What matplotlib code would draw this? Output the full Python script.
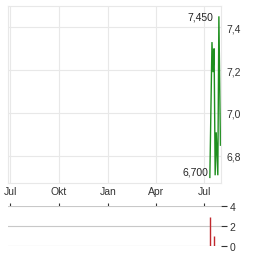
import matplotlib
matplotlib.use("Agg")
import matplotlib.pyplot as plt
import matplotlib.dates as mdates
import numpy as np
import datetime as dt

# Data
price_dates = ["2025-07-12", "2025-07-16", "2025-07-18", "2025-07-20", "2025-07-22",
               "2025-07-24", "2025-07-27", "2025-07-29", "2025-08-01"]
price_values = [6.70, 7.33, 7.19, 7.30, 6.71, 6.91, 6.71, 7.45, 6.85]
volume_dates = ["2025-07-12", "2025-07-20"]
volume_values = [2.9, 1.0]
month_ticks = ["2024-07-01", "2024-10-01", "2025-01-01", "2025-04-01", "2025-07-01"]
month_labels = ["Jul", "Okt", "Jan", "Apr", "Jul"]
price_yticks = [6.8, 7.0, 7.2, 7.4]
volume_yticks = [0, 2, 4]
max_label = "7,450"
min_label = "6,700"

def d(s):
    return mdates.date2num(dt.datetime.strptime(s, "%Y-%m-%d"))

pd_ = [d(s) for s in price_dates]
vd_ = [d(s) for s in volume_dates]
mt_ = [d(s) for s in month_ticks]
xmin, xmax = d("2024-06-27"), d("2025-08-02")

plt.rcParams['font.family'] = ['Liberation Sans', 'DejaVu Sans']
fs = 7.5
W, H = 264, 255
fig = plt.figure(figsize=(W / 100, H / 100), dpi=100)

# Main price axes
ax = fig.add_axes([8 / W, 1 - 184 / H, (221 - 8) / W, (184 - 7) / H])
ax.plot(pd_, price_values, color="#1f8f1f", lw=1.0, solid_joinstyle="miter")
ax.set_xlim(xmin, xmax)
ax.set_ylim(6.674, 7.498)
ax.set_xticks(mt_)
ax.set_xticklabels([])
ax.tick_params(axis="x", length=0)
ax.yaxis.tick_right()
ax.set_yticks(price_yticks)
ax.set_yticklabels([f"{v:.1f}".replace(".", ",") for v in price_yticks], fontsize=fs, color="#333333")
ax.tick_params(axis="y", length=0, pad=4)
ax.grid(True, color="#e8e8e8", lw=0.8)
ax.set_axisbelow(True)
for s in ax.spines.values():
    s.set_color("#e8e8e8")
    s.set_linewidth(0.8)

imax = int(np.argmax(price_values))
imin = int(np.argmin(price_values))
ax.annotate(max_label, (pd_[imax], price_values[imax]), xytext=(-4, 0), textcoords="offset points",
            ha="right", va="center", fontsize=fs, color="#222222")
ax.annotate(min_label, (pd_[imin], price_values[imin]), xytext=(-1, 4), textcoords="offset points",
            ha="right", va="center", fontsize=fs, color="#222222")

# Volume axes
av = fig.add_axes([8 / W, 1 - 247 / H, (221 - 8) / W, (247 - 207) / H])
av.vlines(vd_, 0, volume_values, color="#c0282d", lw=1.0)
av.set_xlim(xmin, xmax)
av.set_ylim(0, 4)
for s in av.spines.values():
    s.set_visible(False)
av.yaxis.tick_right()
av.set_yticks(volume_yticks)
av.set_yticklabels([str(v) for v in volume_yticks], fontsize=fs, color="#333333")
av.tick_params(axis="y", length=4, width=0.8, color="#333333", pad=2)
av.grid(True, axis="y", color="#c8c8c8", lw=0.8)
av.set_axisbelow(True)
av.xaxis.tick_top()
av.set_xticks(mt_)
av.set_xticklabels(month_labels, fontsize=fs, color="#333333")
av.tick_params(axis="x", length=2, width=0.8, color="#333333", pad=5, direction="out")

fig.savefig("out.png", dpi=100)
